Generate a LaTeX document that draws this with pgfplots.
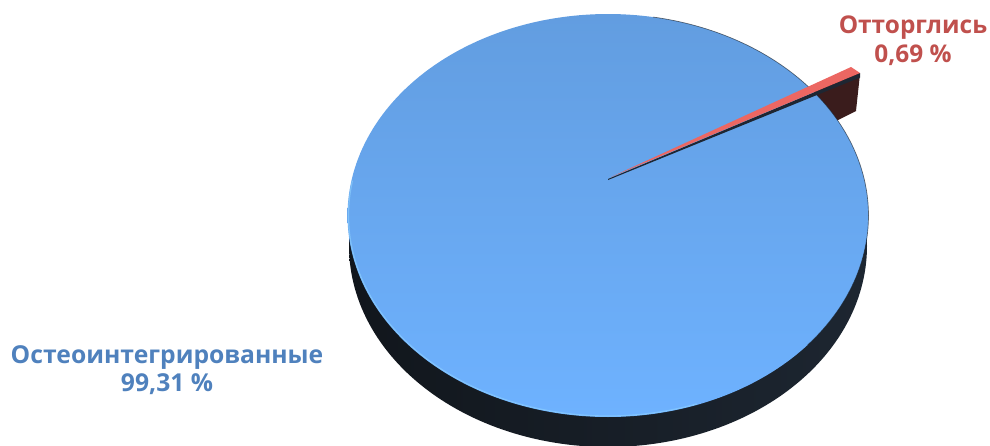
\documentclass[border=0pt]{standalone}
\usepackage{pgfplots}
\pgfplotsset{compat=1.18}
\usepackage{fontspec}
\setmainfont{Open Sans}
\definecolor{topA}{HTML}{629DE0}
\definecolor{topB}{HTML}{6EB2FF}
\definecolor{sideA}{HTML}{11161C}
\definecolor{sideB}{HTML}{1D2631}
\definecolor{rimL}{HTML}{8FD2FF}
\definecolor{labBlue}{HTML}{4F81BD}
\definecolor{labRed}{HTML}{C0504D}
\definecolor{wedgeTop}{HTML}{EC6762}
\definecolor{wedgeSide}{HTML}{3A1C1C}
\definecolor{wedgeEdge}{HTML}{1E2632}
% data: share of each group, per cent
\def\valOst{99.31}
\def\valOtt{0.69}
\begin{document}
\begin{tikzpicture}
\begin{axis}[
  scale only axis, width=742.5pt, height=334.5pt,
  xmin=0, xmax=990, ymin=0, ymax=446, y dir=reverse,
  hide axis, clip=true]
\addplot[draw=none, forget plot] coordinates {(0,0) (990,446)};
% outer face of the exploded slice
\addplot[fill=wedgeSide, draw=none] coordinates {(800,95) (853,70) (860,74) (856,111) (836,121) (820,110)} -- cycle;
% side of the pie
\addplot[draw=none, left color=sideA, right color=sideB, domain=0:360, samples=241, variable=\t]
  ({608+259*cos(t)},{246+201*sin(t)}) -- cycle;
% top face
\addplot[draw=none, top color=topA, bottom color=topB, domain=0:360, samples=241, variable=\t]
  ({608+260.5*cos(t)},{215.5+201.5*sin(t)}) -- cycle;
% rim highlight
\addplot[draw=rimL, line width=0.9pt, opacity=0.6, domain=70:190, samples=100, variable=\t]
  ({608+259.5*cos(t)},{215.5+200.5*sin(t)});
\addplot[draw=sideA, line width=0.5pt, opacity=0.6, domain=-80:40, samples=100, variable=\t]
  ({608+260.5*cos(t)},{215.5+201.5*sin(t)});
% slice side and top
\addplot[fill=wedgeEdge, draw=none] coordinates {(608,179) (860,73) (860,77.5) (608,180)} -- cycle;
\addplot[fill=wedgeTop, draw=none] coordinates {(611,177) (851,67) (860,73)} -- cycle;
% labels
\node[font=\bfseries\fontsize{18.5}{21.5}\selectfont, text=labBlue, align=center] at (axis cs:167,370)
  {Остеоинтегрированные\\99,31 \%};
\node[font=\bfseries\fontsize{18.3}{21.5}\selectfont, text=labRed, align=center] at (axis cs:913,41)
  {Отторглись\\0,69 \%};
\end{axis}
\end{tikzpicture}
\end{document}
